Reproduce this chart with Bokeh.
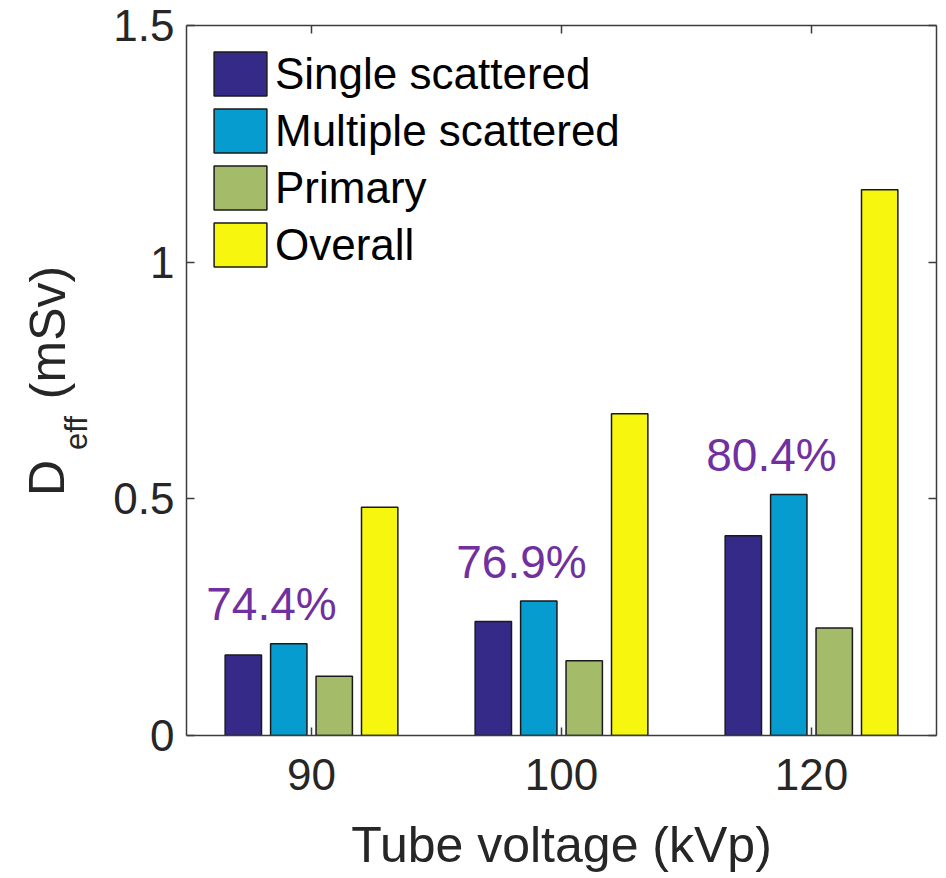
import numpy as np
from bokeh.plotting import figure
from bokeh.layouts import row
from bokeh.models import Range1d, FixedTicker, LinearAxis, Legend, LegendItem, ColumnDataSource
from bokeh.transform import dodge
from bokeh.core.properties import value
from bokeh.embed import file_html
from bokeh.resources import INLINE

# ---- data ----
voltages = ["90", "100", "120"]
single = [0.170, 0.241, 0.422]
multiple = [0.194, 0.284, 0.509]
primary = [0.125, 0.158, 0.227]
overall = [0.482, 0.680, 1.153]
fractions = ["74.4%", "76.9%", "80.4%"]
series_names = ["Single scattered", "Multiple scattered", "Primary", "Overall"]
y_ticks = [0, 0.5, 1, 1.5]
y_tick_labels = ["0", "0.5", "1", "1.5"]
y_label_parts = ["D", "eff", "(mSv)"]

# ---- styling ----
FONT = "Liberation Sans"
TXT = "#262626"
AX = "#3c3c3c"
colors = ["#352A87", "#079CCF", "#A4BC69", "#F6F60F"]
LEFT_W = 100
FRAME_W, FRAME_H = 750, 710
TOP, BOTTOM = 25, 143

pos = list(range(1, len(voltages) + 1))
source = ColumnDataSource(dict(x=pos, single=single, multiple=multiple,
                               primary=primary, overall=overall))

yrange = Range1d(0, 1.5)
p = figure(frame_width=FRAME_W, frame_height=FRAME_H,
           x_range=Range1d(0.5, 3.5), y_range=yrange,
           output_backend="svg", toolbar_location=None,
           min_border_left=86, min_border_top=TOP, min_border_right=10,
           min_border_bottom=BOTTOM, x_axis_type=None, y_axis_type=None)
p.xgrid.visible = False
p.ygrid.visible = False
p.outline_line_color = None
p.background_fill_color = "white"
p.border_fill_color = "white"

# MATLAB-like grouped bar layout: 4 bars in group width n/(n+1.5)
n = 4
group_w = n / (n + 1.5)
step = group_w / n
bar_w = 0.8 * step
offsets = [(-(n - 1) / 2 + i) * step for i in range(n)]
fields = ["single", "multiple", "primary", "overall"]

renderers = []
for f, off, c in zip(fields, offsets, colors):
    r = p.vbar(x=dodge("x", off), top=f, width=bar_w, bottom=0, source=source,
               fill_color=c, line_color="#1a1a1a", line_width=1.5)
    renderers.append(r)

# percentage annotations above the scattered bars
lab_x = [x - 0.16 for x in pos]
lab_y = [max(s, m) + 0.083 for s, m in zip(single, multiple)]
p.text(x=lab_x, y=lab_y, text=fractions, text_font=value(FONT),
       text_font_size="46px", text_color="#7030A0",
       text_align="center", text_baseline="alphabetic")

# axes
def style_axis(ax, show_labels):
    ax.axis_line_color = AX
    ax.axis_line_width = 1.5
    ax.major_tick_line_color = AX
    ax.major_tick_line_width = 1.5
    ax.major_tick_in = 8
    ax.major_tick_out = 0
    ax.minor_tick_line_color = None
    ax.major_label_text_font = FONT
    ax.major_label_text_color = TXT
    if not show_labels:
        ax.major_label_text_font_size = "1px"
        ax.major_label_text_alpha = 0
        ax.major_label_standoff = 0

xt = FixedTicker(ticks=pos)
yt = FixedTicker(ticks=y_ticks)
xlab = {x: v for x, v in zip(pos, voltages)}
ylab = {t: l for t, l in zip(y_ticks, y_tick_labels)}

xb = LinearAxis(ticker=xt, major_label_overrides=xlab)
style_axis(xb, True)
xb.major_label_text_font_size = "44px"
xb.major_label_standoff = 23
xb.axis_label = "Tube voltage (kVp)"
xb.axis_label_text_font = FONT
xb.axis_label_text_font_size = "50px"
xb.axis_label_text_font_style = "normal"
xb.axis_label_text_color = TXT
xb.axis_label_standoff = 24
p.add_layout(xb, "below")

yl = LinearAxis(ticker=yt, major_label_overrides=ylab)
style_axis(yl, True)
yl.major_label_text_font_size = "44px"
yl.major_label_standoff = 12
p.add_layout(yl, "left")

xa = LinearAxis(ticker=xt, major_label_overrides={x: "" for x in pos})
style_axis(xa, False)
p.add_layout(xa, "above")

yr = LinearAxis(ticker=yt, major_label_overrides={t: "" for t in y_ticks})
style_axis(yr, False)
p.add_layout(yr, "right")

# legend (Bokeh insets area glyphs by 10% of the glyph box)
items = [LegendItem(label=nm, renderers=[r]) for nm, r in zip(series_names, renderers)]
leg = Legend(items=items, location="top_left")
leg.glyph_width = 66
leg.glyph_height = 55
leg.label_text_font = FONT
leg.label_text_font_size = "44px"
leg.label_text_color = "#000000"
leg.label_standoff = 2
leg.label_height = 44
leg.spacing = 2
leg.margin = 21
leg.padding = 10
leg.border_line_color = None
leg.background_fill_alpha = 0
p.add_layout(leg, "center")

# y axis label with subscript, D_eff (mSv), drawn in a narrow side panel
# that shares the vertical scale of the main plot
side = figure(frame_width=LEFT_W, frame_height=FRAME_H,
              x_range=Range1d(0, LEFT_W), y_range=yrange,
              output_backend="svg", toolbar_location=None,
              min_border_left=0, min_border_right=0,
              min_border_top=TOP, min_border_bottom=BOTTOM,
              x_axis_type=None, y_axis_type=None)
side.xgrid.visible = False
side.ygrid.visible = False
side.outline_line_color = None
side.border_fill_color = "white"
side.background_fill_color = "white"

def yd(py):  # vertical pixel in the picture -> value on the shared y scale
    return (TOP + FRAME_H - py) * 1.5 / FRAME_H

lab_px = [46.5, 76.0, 47.5]
lab_py = [477.5, 432.5, 332.0]
lab_sz = ["50px", "31px", "50px"]
for txt, px, py, sz in zip(y_label_parts, lab_px, lab_py, lab_sz):
    side.text(x=[px], y=[yd(py)], text=[txt], angle=np.pi / 2,
              text_font=value(FONT), text_font_size=sz, text_color=TXT,
              text_align="center", text_baseline="middle")

layout = row(side, p)
open("out.html", "w").write(file_html(layout, INLINE))
